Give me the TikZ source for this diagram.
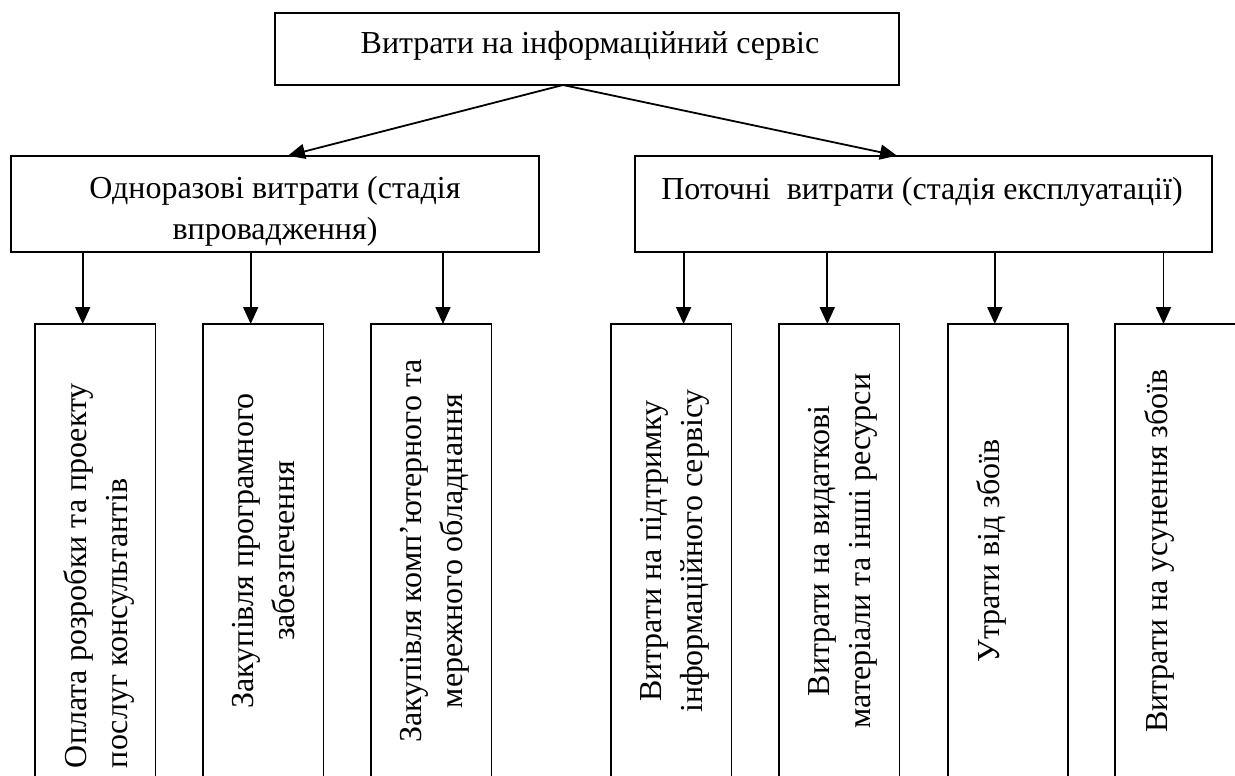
\documentclass[tikz,border=0pt]{standalone}
\usepackage{fontspec}
\setmainfont{Liberation Serif}
\usetikzlibrary{arrows.meta}
\begin{document}
\begin{tikzpicture}[x=1pt,y=-1pt,
 box/.style={draw, line width=1.8pt, inner sep=0pt, outer sep=0pt, anchor=north west},
 lowbox/.style={box, minimum width=120.5pt, minimum height=480pt},
 txt/.style={inner sep=0pt, outer sep=0pt, font=\fontsize{32}{41}\selectfont},
 vtxt/.style={txt, rotate=90, align=center, anchor=north},
 arr/.style={line width=1.8pt, -{Triangle[length=17pt,width=15pt]}}]
\useasboundingbox (0,0) rectangle (1235,776);
\clip (0,0) rectangle (1235,776);
% top level
\node[box, minimum width=624.6pt, minimum height=71.7pt] (top) at (274.7,13.3) {};
\node[txt, anchor=north] (toptext) at (590,31) {Витрати на інформаційний сервіс};
% middle level
\node[box, minimum width=528.6pt, minimum height=96pt] (once) at (10.7,155.7) {};
\node[txt, anchor=north, align=center] (oncetext) at (275,176) {Одноразові витрати (стадія\\впровадження)};
\node[box, minimum width=577pt, minimum height=96pt] (cur) at (635,155.7) {};
\node[txt, anchor=north] (curtext) at (922,177) {Поточні\ \ витрати (стадія експлуатації)};
% bottom level
\node[lowbox] (b1) at (35,324) {};
\node[lowbox] (b2) at (203,324) {};
\node[lowbox] (b3) at (371,324) {};
\node[lowbox] (b4) at (611,324) {};
\node[lowbox] (b5) at (779,324) {};
\node[lowbox] (b6) at (947.6,324) {};
\node[lowbox] (b7) at (1115.3,324) {};
\node[txt, rotate=90, align=left, anchor=north west] (t1) at (64,768) {Оплата розробки та проекту\\послуг консультантів};
\node[vtxt] (t2) at (232,551) {Закупівля програмного\\забезпечення};
\node[vtxt] (t3) at (400,551) {Закупівля комп’ютерного та\\мережного обладнання};
\node[vtxt] (t4) at (640,551) {Витрати на підтримку\\інформаційного сервісу};
\node[vtxt] (t5) at (808,551) {Витрати на видаткові\\матеріали та інші ресурси};
\node[vtxt] (t6) at (976.6,551) {Утрати від збоїв};
\node[vtxt] (t7) at (1144.3,551) {Витрати на усунення збоїв};
% connector positions
\coordinate (apex) at (563,0);
\coordinate (tipL) at (288,0);
\coordinate (tipR) at (897,0);
\coordinate (c1) at (82.7,0);
\coordinate (c2) at (250.7,0);
\coordinate (c3) at (443,0);
\coordinate (c4) at (683.6,0);
\coordinate (c5) at (827.3,0);
\coordinate (c6) at (994.8,0);
\coordinate (c7) at (1163.5,0);
\draw[arr] (top.south -| apex) -- (once.north -| tipL);
\draw[arr] (top.south -| apex) -- (cur.north -| tipR);
\draw[arr] (once.south -| c1) -- (b1.north -| c1);
\draw[arr] (once.south -| c2) -- (b2.north -| c2);
\draw[arr] (once.south -| c3) -- (b3.north -| c3);
\draw[arr] (cur.south -| c4) -- (b4.north -| c4);
\draw[arr] (cur.south -| c5) -- (b5.north -| c5);
\draw[arr] (cur.south -| c6) -- (b6.north -| c6);
\draw[arr] (cur.south -| c7) -- (b7.north -| c7);
\end{tikzpicture}
\end{document}
